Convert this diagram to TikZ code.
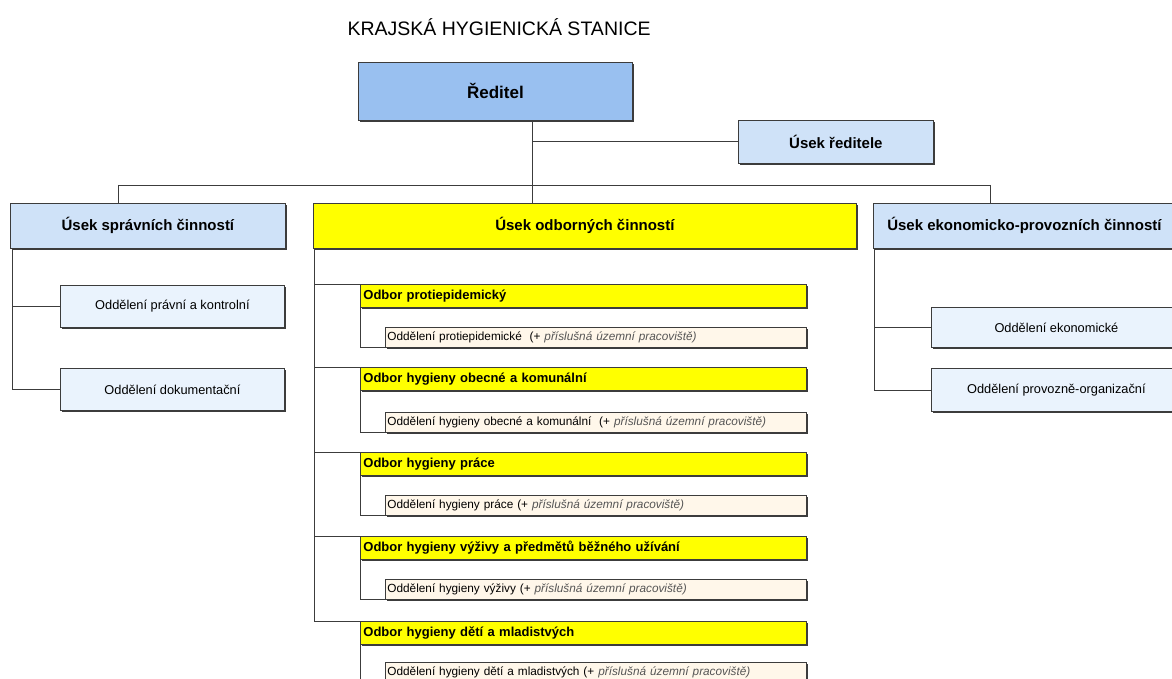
\documentclass[tikz,border=0pt]{standalone}
\usepackage{fontspec}
\setmainfont{Liberation Sans}
\usetikzlibrary{shadows,calc}
\definecolor{redfill}{RGB}{153,192,240}
\definecolor{usekfill}{RGB}{207,226,248}
\definecolor{oddfill}{RGB}{234,243,253}
\definecolor{subfill}{RGB}{255,247,234}
\definecolor{odbfill}{RGB}{255,255,0}
\definecolor{linec}{RGB}{60,60,60}
\definecolor{itgray}{RGB}{85,85,85}
\tikzset{
  boxbase/.style={draw=linec, line width=0.8pt, anchor=north west, inner sep=0pt,
    general shadow={fill=linec, shadow xshift=1.2pt, shadow yshift=-1.2pt}},
  redbox/.style={boxbase, fill=redfill, minimum width=274pt, minimum height=58pt,
    font=\fontsize{17}{19}\selectfont\bfseries},
  usekbox/.style={boxbase, fill=usekfill, minimum height=45pt,
    font=\fontsize{15}{17}\selectfont\bfseries},
  odbbox/.style={boxbase, fill=odbfill, minimum height=45pt,
    font=\fontsize{15}{17}\selectfont\bfseries},
  oddbox/.style={boxbase, fill=oddfill, minimum width=224pt, minimum height=42pt,
    font=\fontsize{12.8}{14}\selectfont},
  odborbox/.style={boxbase, fill=odbfill, minimum width=446pt, minimum height=23pt,
    text width=440pt, align=left, inner xsep=3pt,
    font=\fontsize{13}{15}\selectfont\bfseries},
  subbox/.style={boxbase, fill=subfill, minimum width=421pt, minimum height=20pt,
    text width=417pt, align=left, inner xsep=2pt,
    font=\fontsize{11.8}{13}\selectfont},
  conn/.style={draw=linec, line width=0.8pt},
}
\newcommand{\pril}{(+ \textcolor{itgray}{\itshape příslušná územní pracoviště)}}
\begin{document}
\begin{tikzpicture}[x=1pt,y=-1pt]
\useasboundingbox (0,0) rectangle (1172,679);
\clip (0,0) rectangle (1172,679);
\fill[white] (0,0) rectangle (1172,679);

\node[font=\fontsize{19.5}{21}\selectfont, anchor=west] (title) at (344,27) {KRAJSKÁ HYGIENICKÁ STANICE};

\node[redbox] (red) at (358,62) {Ředitel};
\node[usekbox, minimum width=195pt, minimum height=43pt] (ured) at (738,120) {Úsek ředitele};

\node[usekbox, minimum width=275pt] (spr) at (10,203) {Úsek správních činností};
\node[odbbox, minimum width=543pt] (odb) at (313,203) {Úsek odborných činností};
\node[usekbox, minimum width=302pt] (eko) at (873,203) {Úsek ekonomicko-provozních činností};

\node[oddbox] (d1) at (60,285) {Oddělení právní a kontrolní};
\node[oddbox] (d2) at (60,368) {Oddělení dokumentační};
\node[oddbox, minimum width=250pt, minimum height=40pt] (e1) at (931,307) {Oddělení ekonomické};
\node[oddbox, minimum width=250pt, minimum height=43pt] (e2) at (931,368) {Oddělení provozně-organizační};

\node[odborbox] (o1) at (360,284) {Odbor protiepidemický};
\node[subbox] (s1) at (385,327) {Oddělení protiepidemické \ \pril};
\node[odborbox] (o2) at (360,367) {Odbor hygieny obecné a komunální};
\node[subbox] (s2) at (385,412) {Oddělení hygieny obecné a komunální \ \pril};
\node[odborbox] (o3) at (360,452) {Odbor hygieny práce};
\node[subbox] (s3) at (385,495) {Oddělení hygieny práce \pril};
\node[odborbox] (o4) at (360,536) {Odbor hygieny výživy a předmětů běžného užívání};
\node[subbox] (s4) at (385,579) {Oddělení hygieny výživy \pril};
\node[odborbox] (o5) at (360,621) {Odbor hygieny dětí a mladistvých};
\node[subbox] (s5) at (385,662) {Oddělení hygieny dětí a mladistvých \pril};

% top connectors
\coordinate (tr) at (532,0);
\draw[conn] (tr |- red.south) -- (tr |- odb.north);
\draw[conn] (tr |- ured.west) -- (ured.west);
\coordinate (busL) at (118,185);
\coordinate (busR) at (990,185);
\draw[conn] (busL) -- (busR);
\draw[conn] (busL) -- (busL |- spr.north);
\draw[conn] (busR) -- (busR |- eko.north);

% left branch
\coordinate (sL) at (12,0);
\draw[conn] (sL |- spr.south) -- (sL |- d2.west) -- (d2.west);
\draw[conn] (sL |- d1.west) -- (d1.west);

% right branch
\coordinate (sR) at (874,0);
\draw[conn] (sR |- eko.south) -- (sR |- e2.west) -- (e2.west);
\draw[conn] (sR |- e1.west) -- (e1.west);

% middle branch
\coordinate (sM) at (314,0);
\draw[conn] (sM |- odb.south) -- (sM |- o5.north west) -- (o5.north west);
\foreach \o in {o1,o2,o3,o4} {
  \draw[conn] (sM |- \o.north west) -- (\o.north west);
}
\foreach \o/\s in {o1/s1,o2/s2,o3/s3,o4/s4,o5/s5} {
  \draw[conn] (\o.south west) -- (\o.south west |- \s.south west) -- (\s.south west);
}
\end{tikzpicture}
\end{document}
